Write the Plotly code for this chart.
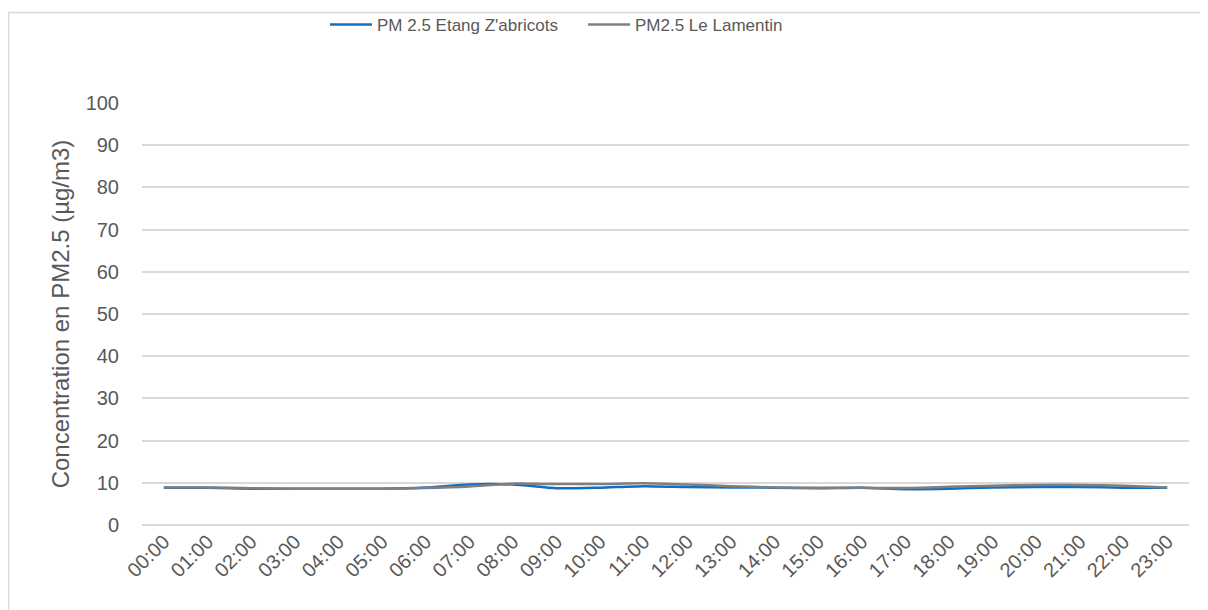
import plotly.graph_objects as go

HOURS = [f"{h:02d}:00" for h in range(24)]

ETANG = [8.8, 8.8, 8.6, 8.6, 8.6, 8.6, 8.9, 9.6, 9.6, 8.7, 8.85, 9.2,
         9.0, 8.9, 8.85, 8.7, 8.8, 8.5, 8.6, 8.9, 9.0, 9.0, 8.85, 8.8]
LAMENTIN = [8.9, 8.9, 8.7, 8.6, 8.6, 8.6, 8.75, 9.1, 9.8, 9.7, 9.7, 9.9,
            9.6, 9.2, 8.9, 8.8, 8.8, 8.75, 9.05, 9.3, 9.5, 9.5, 9.3, 8.9]

NAMES = ["PM 2.5 Etang Z'abricots", "PM2.5 Le Lamentin"]
COLORS = ["#0F6FC6", "#7F7F7F"]

TXT = "#595959"
GRID = "#D9D9D9"

# la page html ajoute 8 px de marge au body
W, H = 1200, 602

fig = go.Figure()
for name, vals, c in zip(NAMES, [ETANG, LAMENTIN], COLORS):
    fig.add_trace(
        go.Scatter(
            x=HOURS,
            y=vals,
            mode="lines",
            name=name,
            line=dict(color=c, width=2.5, shape="spline", smoothing=0.6),
        )
    )

# cadre du graphique (bordure grise)
fig.add_shape(
    type="rect",
    xref="paper", yref="paper",
    x0=-0.1275, x1=1.2, y0=-0.3, y1=1.2145,
    line=dict(color=GRID, width=1.5),
    fillcolor="rgba(0,0,0,0)",
    layer="below",
)

fig.update_layout(
    width=W,
    height=H,
    margin=dict(l=134, r=19, t=95, b=85, autoexpand=False),
    plot_bgcolor="white",
    paper_bgcolor="white",
    font=dict(family="Liberation Sans, Arial, sans-serif", size=20, color=TXT),
    showlegend=True,
    legend=dict(
        orientation="h",
        xref="container", yref="container",
        x=317 / W, xanchor="left",
        y=1 - 17 / H, yanchor="middle",
        font=dict(family="Liberation Sans, Arial, sans-serif", size=17, color=TXT),
        itemwidth=42,
        entrywidth=201,
        bgcolor="rgba(0,0,0,0)",
    ),
    xaxis=dict(
        type="category",
        tickangle=-45,
        showgrid=False,
        showline=False,
        ticks="",
        tickfont=dict(size=20, color=TXT),
        range=[-0.5, 23.5],
        automargin=False,
        fixedrange=True,
    ),
    yaxis=dict(
        range=[0, 100],
        tickvals=list(range(0, 101, 10)),
        showgrid=True,
        gridcolor=GRID,
        gridwidth=1.5,
        zeroline=True,
        zerolinecolor=GRID,
        zerolinewidth=1.5,
        showline=False,
        ticks="",
        ticklabelstandoff=22,
        tickfont=dict(size=20, color=TXT),
        title=dict(
            text="Concentration en PM2.5 (µg/m3)",
            font=dict(size=24, color=TXT),
            standoff=9,
        ),
        automargin=False,
        fixedrange=True,
    ),
)

fig.write_html("out.html")
